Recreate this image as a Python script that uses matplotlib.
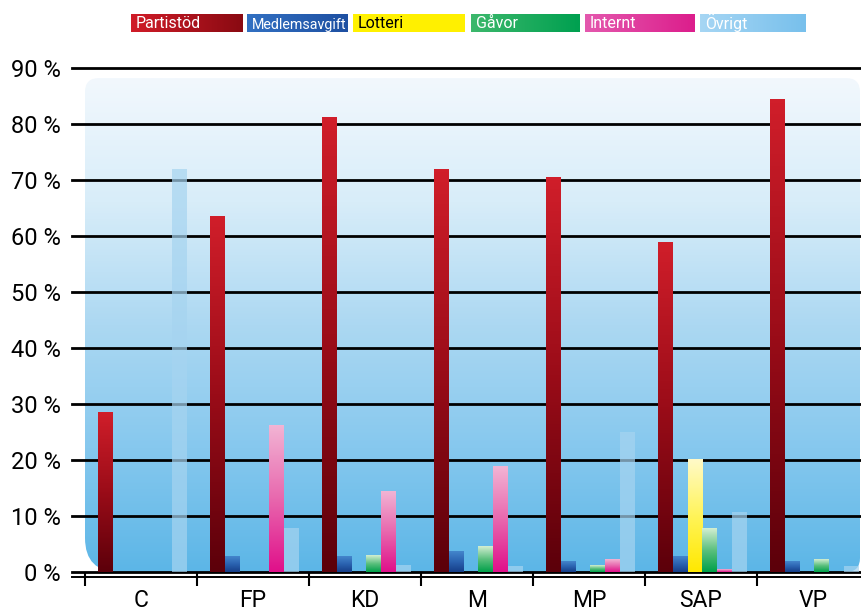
import numpy as np
import matplotlib
matplotlib.use("Agg")
import matplotlib.pyplot as plt
from matplotlib.colors import LinearSegmentedColormap
from matplotlib.path import Path
from matplotlib.patches import PathPatch

plt.rcParams['font.family'] = ['Roboto', 'DejaVu Sans']

# Data (andel av intäkter, %)
partier = ['C', 'FP', 'KD', 'M', 'MP', 'SAP', 'VP']
serier = ['Partistöd', 'Medlemsavgift', 'Lotteri', 'Gåvor', 'Internt', 'Övrigt']
partistod = [28.5, 63.4, 81.1, 71.8, 70.5, 58.8, 84.3]
medlemsavgift = [0, 2.7, 2.7, 3.6, 1.8, 2.7, 1.8]
lotteri = [0, 0, 0, 0, 0, 20.1, 0]
gavor = [0, 0, 3.0, 4.6, 1.2, 7.8, 2.3]
internt = [0, 26.2, 14.3, 18.8, 2.3, 0.4, 0]
ovrigt = [72.0, 7.8, 1.2, 1.1, 25.0, 10.7, 1.0]
y_ticks = [0, 10, 20, 30, 40, 50, 60, 70, 80, 90]

varden = [partistod, medlemsavgift, lotteri, gavor, internt, ovrigt]

# gradienter för staplar (botten -> topp)
bar_grad = {
    'Partistöd': ['#5c000a', '#9a0c18', '#d01e2a'],
    'Medlemsavgift': ['#163e88', '#2a62b0', '#4486cc'],
    'Lotteri': ['#ffe800', '#fff45a', '#fffac8'],
    'Gåvor': ['#00a04a', '#5cc07e', '#d2eed2'],
    'Internt': ['#e0108a', '#e868ae', '#f2b4d4'],
}
# legendfärger (vänster -> höger)
leg_grad = {
    'Partistöd': ['#d01c28', '#8a0a12'],
    'Medlemsavgift': ['#3270c2', '#1e50a2'],
    'Lotteri': ['#fff200', '#fff000'],
    'Gåvor': ['#3cb86c', '#00a050'],
    'Internt': ['#e458ae', '#dc1e8c'],
    'Övrigt': ['#a6d6f4', '#78c0ec'],
}
leg_x = [131, 247, 353, 471, 585, 700]
leg_w = [112, 101, 112, 109, 110, 106]

fig = plt.figure(figsize=(8.62, 6.13), dpi=100)

# overlay i pixelkoordinater för bakgrund och legend
ov = fig.add_axes([0, 0, 1, 1], zorder=0)
ov.set_xlim(0, 862)
ov.set_ylim(613, 0)
ov.axis('off')


def rundad_rekt(x0, y0, x1, y1, r_tl, r_tr, r_br, r_bl):
    verts = [(x0 + r_tl, y0), (x1 - r_tr, y0), (x1, y0), (x1, y0 + r_tr),
             (x1, y1 - r_br), (x1, y1), (x1 - r_br, y1),
             (x0 + r_bl, y1), (x0, y1), (x0, y1 - r_bl),
             (x0, y0 + r_tl), (x0, y0), (x0 + r_tl, y0), (x0 + r_tl, y0)]
    codes = [Path.MOVETO, Path.LINETO, Path.CURVE3, Path.CURVE3,
             Path.LINETO, Path.CURVE3, Path.CURVE3,
             Path.LINETO, Path.CURVE3, Path.CURVE3,
             Path.LINETO, Path.CURVE3, Path.CURVE3, Path.CLOSEPOLY]
    return Path(verts, codes)


panel = PathPatch(rundad_rekt(85, 78, 860, 572, 14, 14, 14, 34),
                  facecolor='none', edgecolor='none')
ov.add_patch(panel)
bg_cmap = LinearSegmentedColormap.from_list(
    'bg', ['#f2f8fd', '#d8edf9', '#acd8f2', '#86c8ee', '#5cb6e7'])
bg = ov.imshow(np.linspace(0, 1, 256).reshape(-1, 1), cmap=bg_cmap,
               extent=(85, 860, 572, 78), aspect='auto', origin='upper')
bg.set_clip_path(panel)

# legend
for i, s in enumerate(serier):
    cm = LinearSegmentedColormap.from_list('l' + str(i), leg_grad[s])
    ov.imshow(np.linspace(0, 1, 64).reshape(1, -1), cmap=cm, aspect='auto',
              extent=(leg_x[i], leg_x[i] + leg_w[i], 32, 14), origin='upper')
for i, s in enumerate(serier):
    ov.text(leg_x[i] + 5, 28.5, s, color='black' if s == 'Lotteri' else 'white',
            fontsize=10.3 if s == 'Medlemsavgift' else 11.5,
            va='baseline', ha='left', zorder=5)

# dubbel baslinje
ov.plot([72, 862], [576.5, 576.5], color='black', lw=1.4)
ov.set_xlim(0, 862)
ov.set_ylim(613, 0)

# huvudaxlar
ax = fig.add_axes([72 / 862, 41 / 613, 1 - 72 / 862, 504 / 613], zorder=1)
ax.patch.set_alpha(0)

x = np.arange(len(partier))
bw = 14.8 / 112
start = -0.5 + 13 / 112

for yv in y_ticks:
    ax.axhline(yv, color='black', lw=2, zorder=2, clip_on=False)

for k, s in enumerate(serier):
    for i in range(len(partier)):
        h = varden[k][i]
        if h <= 0:
            continue
        x0 = i + start + k * bw
        if s == 'Övrigt':
            ax.bar(x0, h, width=bw, align='edge', color='#a6d4f0',
                   alpha=0.7, zorder=3)
        else:
            cm = LinearSegmentedColormap.from_list('b' + str(k), bar_grad[s])
            ax.imshow(np.linspace(0, 1, 128).reshape(-1, 1), cmap=cm,
                      extent=(x0, x0 + bw, 0, h), aspect='auto',
                      origin='lower', zorder=3)

ax.set_xlim(-0.5 - 13 / 112, -0.5 - 13 / 112 + 790 / 112)
ax.set_ylim(0, 90)

for sp in ax.spines.values():
    sp.set_visible(False)

ax.set_yticks(y_ticks)
ax.set_yticklabels([f'{v} %' for v in y_ticks], fontsize=17)
ax.tick_params(axis='y', length=0, pad=8)

ax.set_xticks(x)
ax.set_xticklabels(partier, fontsize=16.5)
ax.tick_params(axis='x', length=0, pad=12)
ax.set_xticks(np.arange(len(partier)) - 0.5, minor=True)
ax.tick_params(axis='x', which='minor', direction='out', length=10,
               width=1.5, color='black')

fig.savefig('out.png', dpi=100)
